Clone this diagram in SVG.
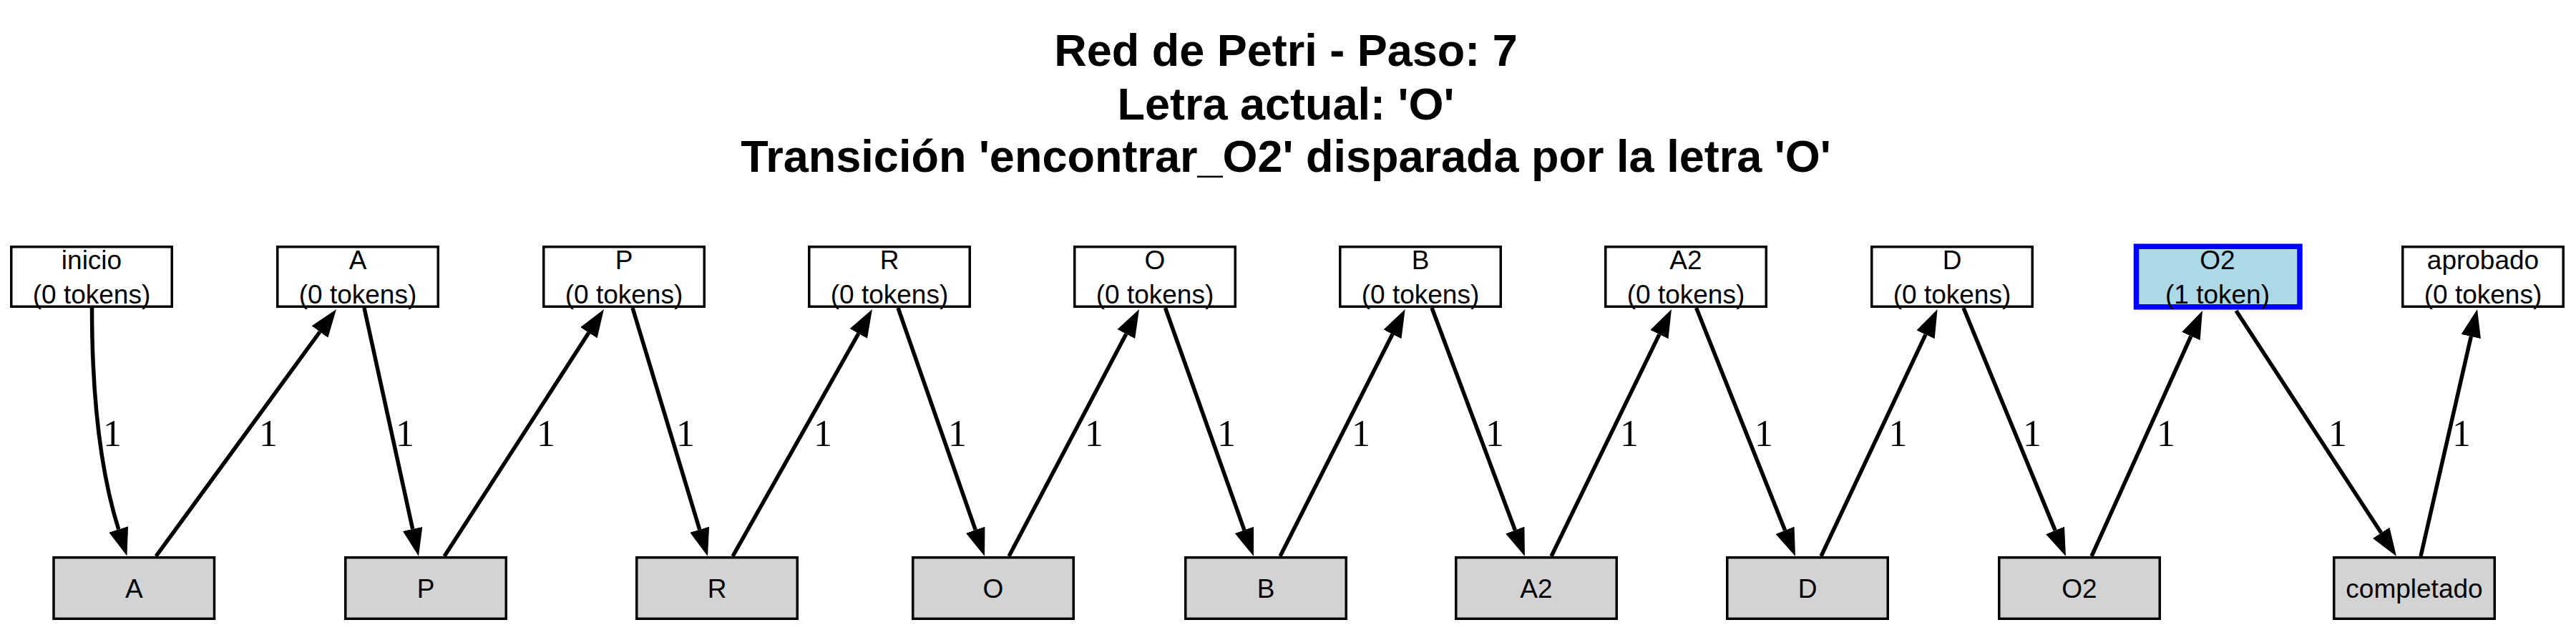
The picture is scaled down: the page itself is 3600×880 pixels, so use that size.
<svg xmlns="http://www.w3.org/2000/svg" width="3600" height="880" viewBox="0 0 3600 880">
<style>
.title{font-family:"Liberation Sans",Arial,sans-serif;font-weight:bold;font-size:63px;text-anchor:middle;fill:#000}
.place rect{fill:#fff;stroke:#000;stroke-width:3.5}
.trans rect{fill:#d3d3d3;stroke:#000;stroke-width:3.5}
.active rect{fill:#add8e6;stroke:#0000ff;stroke-width:7.5}
.nt{font-family:"Liberation Sans",Arial,sans-serif;font-size:37px;text-anchor:middle;fill:#000}
.edges path{fill:none;stroke:#000;stroke-width:5.5;marker-end:url(#arr)}
.lbl{font-family:"Liberation Serif","Times New Roman",serif;font-size:52px;text-anchor:middle;fill:#000}
</style>
<defs>
<marker id="arr" markerUnits="userSpaceOnUse" markerWidth="39" markerHeight="28" viewBox="0 0 39 28" refX="0" refY="14" orient="auto">
<path d="M0,0 L39,14 L0,28 Z" fill="#000"/>
</marker>
</defs>
<rect width="3600" height="880" fill="#fff"/>
<g id="title">
<text class="title" x="1797" y="92">Red de Petri - Paso: 7</text>
<text class="title" x="1797" y="167">Letra actual: 'O'</text>
<text class="title" x="1797" y="240">Transición 'encontrar_O2' disparada por la letra 'O'</text>
</g>
<g id="place-inicio" class="place"><rect x="15.75" y="344.75" width="224.5" height="83.5"/><text class="nt" x="128" y="376">inicio</text><text class="nt" x="128" y="424">(0 tokens)</text></g>
<g id="place-A" class="place"><rect x="387.75" y="344.75" width="224.5" height="83.5"/><text class="nt" x="500" y="376">A</text><text class="nt" x="500" y="424">(0 tokens)</text></g>
<g id="place-P" class="place"><rect x="759.75" y="344.75" width="224.5" height="83.5"/><text class="nt" x="872" y="376">P</text><text class="nt" x="872" y="424">(0 tokens)</text></g>
<g id="place-R" class="place"><rect x="1130.75" y="344.75" width="224.5" height="83.5"/><text class="nt" x="1243" y="376">R</text><text class="nt" x="1243" y="424">(0 tokens)</text></g>
<g id="place-O" class="place"><rect x="1501.75" y="344.75" width="224.5" height="83.5"/><text class="nt" x="1614" y="376">O</text><text class="nt" x="1614" y="424">(0 tokens)</text></g>
<g id="place-B" class="place"><rect x="1872.75" y="344.75" width="224.5" height="83.5"/><text class="nt" x="1985" y="376">B</text><text class="nt" x="1985" y="424">(0 tokens)</text></g>
<g id="place-A2" class="place"><rect x="2243.75" y="344.75" width="224.5" height="83.5"/><text class="nt" x="2356" y="376">A2</text><text class="nt" x="2356" y="424">(0 tokens)</text></g>
<g id="place-D" class="place"><rect x="2615.75" y="344.75" width="224.5" height="83.5"/><text class="nt" x="2728" y="376">D</text><text class="nt" x="2728" y="424">(0 tokens)</text></g>
<g id="place-O2" class="active"><rect x="2985.5" y="344.25" width="228.5" height="84.5"/><text class="nt" x="3099" y="376">O2</text><text class="nt" x="3099" y="424">(1 token)</text></g>
<g id="place-aprobado" class="place"><rect x="3357.75" y="344.75" width="224.5" height="83.5"/><text class="nt" x="3470" y="376">aprobado</text><text class="nt" x="3470" y="424">(0 tokens)</text></g>
<g id="trans-A" class="trans"><rect x="75" y="778.75" width="224.5" height="85.5"/><text class="nt" x="187.3" y="835">A</text></g>
<g id="trans-P" class="trans"><rect x="482.75" y="778.75" width="224.5" height="85.5"/><text class="nt" x="595" y="835">P</text></g>
<g id="trans-R" class="trans"><rect x="889.75" y="778.75" width="224.5" height="85.5"/><text class="nt" x="1002" y="835">R</text></g>
<g id="trans-O" class="trans"><rect x="1275.75" y="778.75" width="224.5" height="85.5"/><text class="nt" x="1388" y="835">O</text></g>
<g id="trans-B" class="trans"><rect x="1656.75" y="778.75" width="224.5" height="85.5"/><text class="nt" x="1769" y="835">B</text></g>
<g id="trans-A2" class="trans"><rect x="2034.75" y="778.75" width="224.5" height="85.5"/><text class="nt" x="2147" y="835">A2</text></g>
<g id="trans-D" class="trans"><rect x="2413.75" y="778.75" width="224.5" height="85.5"/><text class="nt" x="2526" y="835">D</text></g>
<g id="trans-O2" class="trans"><rect x="2793.75" y="778.75" width="224.5" height="85.5"/><text class="nt" x="2906" y="835">O2</text></g>
<g id="trans-completado" class="trans"><rect x="3261.75" y="778.75" width="224.5" height="85.5"/><text class="nt" x="3374" y="835">completado</text></g>
<g id="connectors" class="edges">
<path d="M128.5,430 C128.5,530 136,645 165.7,739.4"/>
<path d="M218,777 L447,463.5"/>
<path d="M509,430 L576.65,738.9"/>
<path d="M621,777 L822.8,464.75"/>
<path d="M884,430 L977.7,739.7"/>
<path d="M1024,777 L1199.8,465.95"/>
<path d="M1255,430 L1363.2,740.2"/>
<path d="M1410,777 L1573.8,466.5"/>
<path d="M1628.5,430 L1738.9,740.3"/>
<path d="M1789,777 L1946,466.8"/>
<path d="M2001,430 L2117.3,740.5"/>
<path d="M2168,777 L2318.9,467.1"/>
<path d="M2370.6,430 L2494.55,740.8"/>
<path d="M2545,777 L2691,467.3"/>
<path d="M2744,430 L2872.1,740.9"/>
<path d="M2923,777 L3061.9,469.5"/>
<path d="M3125,434 L3327.7,744.35"/>
<path d="M3383,777 L3453.3,470"/>
</g>
<g id="edge-labels">
<text class="lbl" x="157" y="623">1</text>
<text class="lbl" x="375" y="623">1</text>
<text class="lbl" x="566" y="623">1</text>
<text class="lbl" x="763" y="623">1</text>
<text class="lbl" x="958" y="623">1</text>
<text class="lbl" x="1150" y="623">1</text>
<text class="lbl" x="1338" y="623">1</text>
<text class="lbl" x="1529" y="623">1</text>
<text class="lbl" x="1714" y="623">1</text>
<text class="lbl" x="1902" y="623">1</text>
<text class="lbl" x="2089" y="623">1</text>
<text class="lbl" x="2277" y="623">1</text>
<text class="lbl" x="2465" y="623">1</text>
<text class="lbl" x="2652.5" y="623">1</text>
<text class="lbl" x="2840" y="623">1</text>
<text class="lbl" x="3027" y="623">1</text>
<text class="lbl" x="3267" y="623">1</text>
<text class="lbl" x="3440" y="623">1</text>
</g>
</svg>
